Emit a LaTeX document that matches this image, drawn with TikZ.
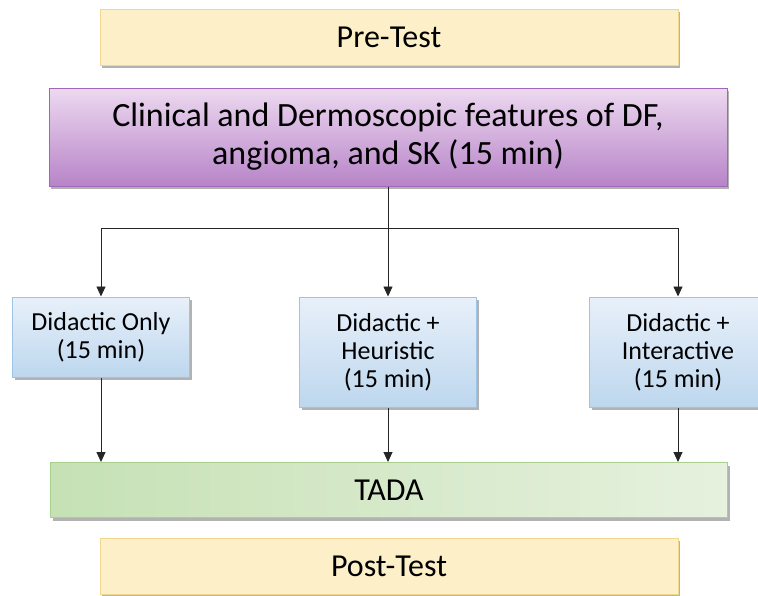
\documentclass[tikz,border=0pt]{standalone}
\usepackage{fontspec}
\setmainfont{Carlito}
\usetikzlibrary{arrows.meta,shadows}
\definecolor{preFill}{HTML}{FDF0C8}
\definecolor{preLine}{HTML}{F2D88E}
\definecolor{purTop}{HTML}{EDD9F0}
\definecolor{purBot}{HTML}{B784C8}
\definecolor{purLine}{HTML}{A067B8}
\definecolor{bluTop}{HTML}{E8F0FA}
\definecolor{bluBot}{HTML}{BDD7EE}
\definecolor{bluLine}{HTML}{9DC3E6}
\definecolor{grnL}{HTML}{C6E1B5}
\definecolor{grnR}{HTML}{E6F1DE}
\definecolor{grnLine}{HTML}{A9D18E}
\def\testtext{\fontsize{32}{38}\selectfont}
\def\topictext{\fontsize{34}{38}\selectfont}
\def\armtext{\fontsize{26}{28}\selectfont}
\tikzset{
  box/.style={draw,line width=1pt,align=center,inner sep=0pt,
    drop shadow={shadow xshift=2pt,shadow yshift=-3pt,fill=black!50,opacity=.6}},
  testbox/.style={box,draw=preLine,fill=preFill,minimum width=578pt,minimum height=56pt,font=\testtext},
  topicbox/.style={box,draw=purLine,top color=purTop,bottom color=purBot,minimum width=678pt,minimum height=98pt,font=\topictext},
  armbox/.style={box,draw=bluLine,top color=bluTop,bottom color=bluBot,minimum width=177pt,font=\armtext},
  tadabox/.style={box,draw=grnLine,left color=grnL,right color=grnR,minimum width=677pt,minimum height=55pt,font=\testtext},
  arr/.style={draw=black!85,line width=0.9pt,-{Triangle[length=10pt,width=9pt]}},
  lin/.style={draw=black!85,line width=0.9pt}
}
\begin{document}
\begin{tikzpicture}[x=1pt,y=-1pt]
\useasboundingbox[fill=white] (0,0) rectangle (758,595);
\node[testbox] (pre) at (389,37) {Pre-Test};
\node[topicbox] (topic) at (388,137) {Clinical and Dermoscopic features of DF,\\angioma, and SK (15 min)};
\node[armbox,minimum height=80pt] (only) at (101,337) {Didactic Only\\(15 min)};
\node[armbox,minimum height=110pt] (heur) at (388,352) {Didactic +\\Heuristic\\(15 min)};
\node[armbox,minimum height=110pt] (inter) at (678,352) {Didactic +\\Interactive\\(15 min)};
\node[tadabox] (tada) at (389,490) {TADA};
\node[testbox] (post) at (389,566) {Post-Test};
\coordinate (split) at (heur.north |- 0,228);
% branch to the three arms
\draw[lin] (topic.south -| heur.north) -- (split);
\draw[arr] (split) -| (only.north);
\draw[arr] (split) -- (heur.north);
\draw[arr] (split) -| (inter.north);
% arms into TADA
\draw[arr] (only.south) -- (only.south |- tada.north);
\draw[arr] (heur.south) -- (heur.south |- tada.north);
\draw[arr] (inter.south) -- (inter.south |- tada.north);
\end{tikzpicture}
\end{document}
